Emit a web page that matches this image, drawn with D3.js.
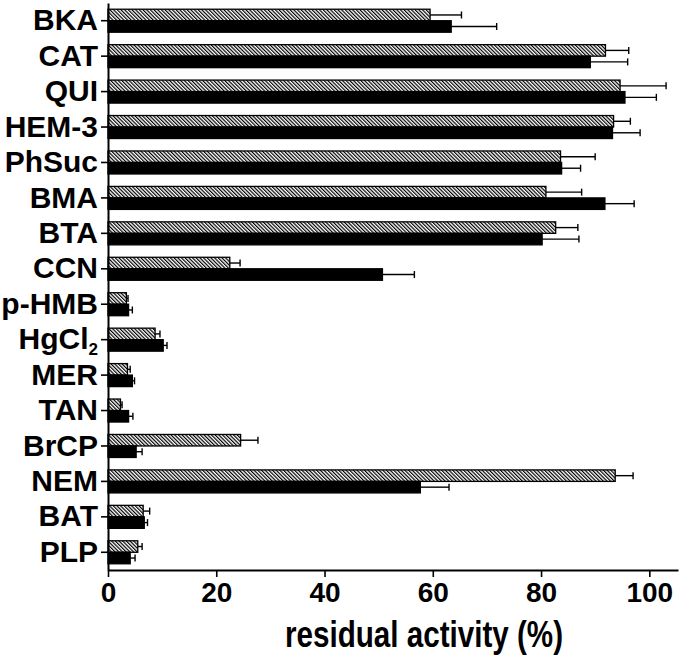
<!DOCTYPE html>
<html>
<head>
<meta charset="utf-8">
<script src="https://cdn.jsdelivr.net/npm/d3@7.9.0/dist/d3.min.js"></script>
<style>
  body { margin: 0; background: #fff; }
  svg { display: block; }
  text { font-family: 'Liberation Sans', Arial, sans-serif; font-weight: bold; fill: #000; }
</style>
</head>
<body>
<div id="chart"></div>
<script>
const categories = ['BKA', 'CAT', 'QUI', 'HEM-3', 'PhSuc', 'BMA', 'BTA', 'CCN',
  'p-HMB', 'HgCl2', 'MER', 'TAN', 'BrCP', 'NEM', 'BAT', 'PLP'];
const hatchedValues = [59.5, 91.9, 94.6, 93.4, 83.6, 80.9, 82.7, 22.5, 3.4, 8.7, 3.6, 2.3, 24.5, 93.7, 6.5, 5.5];
const hatchedErrors = [5.8, 4.3, 8.5, 3.1, 6.4, 6.6, 4.1, 1.9, 0.3, 0.9, 0.5, 0.3, 3.2, 3.3, 1.2, 0.8];
const solidValues = [63.4, 89.1, 95.5, 93.2, 83.8, 91.8, 80.2, 50.7, 3.8, 10.2, 4.5, 3.8, 5.2, 57.7, 6.7, 4.1];
const solidErrors = [8.4, 6.9, 5.8, 5.1, 3.5, 5.4, 6.8, 5.9, 0.7, 0.7, 0.4, 0.8, 1.1, 5.3, 0.6, 0.9];
const xTicks = [0, 20, 40, 60, 80, 100];

const width = 680;
const height = 655;
const margin = { top: 3, right: 2, bottom: 85, left: 108 };

const rows = categories.flatMap((c, i) => [
  { cat: c, series: 'hatched', value: hatchedValues[i], err: hatchedErrors[i] },
  { cat: c, series: 'solid', value: solidValues[i], err: solidErrors[i] },
]);

const svg = d3.select('#chart').append('svg')
  .attr('width', width)
  .attr('height', height);

const defs = svg.append('defs');
const pattern = defs.append('pattern')
  .attr('id', 'hatch')
  .attr('patternUnits', 'userSpaceOnUse')
  .attr('width', 2.6)
  .attr('height', 2.6)
  .attr('patternTransform', 'rotate(-45)');
pattern.append('rect').attr('width', 2.6).attr('height', 2.6).attr('fill', '#fff');
pattern.append('line')
  .attr('x1', 0.6).attr('y1', 0).attr('x2', 0.6).attr('y2', 2.6)
  .attr('stroke', '#000').attr('stroke-width', 1.2);

const x = d3.scaleLinear()
  .domain([0, 105.3])
  .range([margin.left, width - margin.right]);

const y = d3.scaleBand()
  .domain(categories)
  .range([margin.top, height - margin.bottom])
  .padding(0);

const sub = d3.scaleBand()
  .domain(['hatched', 'solid'])
  .range([0, y.bandwidth()])
  .paddingInner(0)
  .paddingOuter(0.54);

// bars
svg.append('g')
  .selectAll('rect')
  .data(rows)
  .join('rect')
  .attr('x', x(0))
  .attr('y', (d) => y(d.cat) + sub(d.series))
  .attr('width', (d) => x(d.value) - x(0))
  .attr('height', sub.bandwidth())
  .attr('fill', (d) => (d.series === 'hatched' ? 'url(#hatch)' : '#000'))
  .attr('stroke', '#000')
  .attr('stroke-width', 1.3);

// error bars
const errG = svg.append('g').attr('stroke', '#000').attr('stroke-width', 1.4);
const cy = (d) => y(d.cat) + sub(d.series) + sub.bandwidth() / 2;
errG.selectAll('line.whisker')
  .data(rows)
  .join('line')
  .attr('class', 'whisker')
  .attr('x1', (d) => x(d.value))
  .attr('x2', (d) => x(d.value + d.err))
  .attr('y1', cy)
  .attr('y2', cy);
errG.selectAll('line.cap')
  .data(rows)
  .join('line')
  .attr('class', 'cap')
  .attr('x1', (d) => x(d.value + d.err))
  .attr('x2', (d) => x(d.value + d.err))
  .attr('y1', (d) => cy(d) - 3.5)
  .attr('y2', (d) => cy(d) + 3.5);

// y axis
const yAxis = svg.append('g')
  .attr('transform', `translate(${margin.left},0)`)
  .call(d3.axisLeft(y).tickSize(7).tickSizeOuter(0).tickPadding(3));
yAxis.select('.domain').attr('stroke-width', 2);
yAxis.selectAll('.tick line').attr('stroke-width', 1.6);
yAxis.selectAll('.tick text')
  .attr('font-size', 30)
  .attr('font-family', null)
  .each(function (d) {
    if (d === 'HgCl2') {
      const t = d3.select(this);
      t.text('HgCl');
      t.append('tspan').attr('font-size', 17).attr('dy', '0.35em').text('2');
    }
  });

// x axis
const xAxis = svg.append('g')
  .attr('transform', `translate(0,${height - margin.bottom})`)
  .call(d3.axisBottom(x).tickValues(xTicks).tickSize(7).tickSizeOuter(0).tickPadding(5));
xAxis.select('.domain').attr('stroke-width', 2);
xAxis.selectAll('.tick line').attr('stroke-width', 1.6);
xAxis.selectAll('.tick text')
  .attr('font-size', 28)
  .attr('font-family', null);

svg.append('text')
  .attr('x', 424)
  .attr('y', 647)
  .attr('text-anchor', 'middle')
  .attr('font-size', 36)
  .attr('textLength', 278)
  .attr('lengthAdjust', 'spacingAndGlyphs')
  .text('residual activity (%)');
</script>
</body>
</html>
